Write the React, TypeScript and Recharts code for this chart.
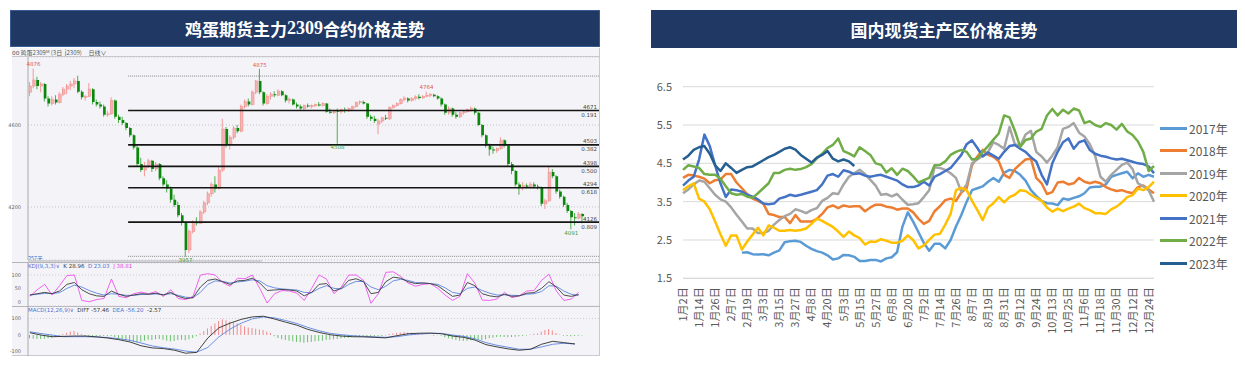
import React from 'react';
import {
  ComposedChart,
  LineChart,
  Line,
  Bar,
  Cell,
  XAxis,
  YAxis,
  CartesianGrid,
  ReferenceLine,
  ReferenceDot,
} from 'recharts';

// ---------- 鸡蛋2309 日K线 [开, 高, 低, 收] ----------
const candles: [number, number, number, number][] = [
  [4760, 4810, 4740, 4790], [4790, 4876, 4780, 4820], [4820, 4835, 4775, 4790], [4790, 4810, 4760, 4800],
  [4800, 4805, 4715, 4730], [4730, 4740, 4690, 4705], [4705, 4740, 4695, 4725], [4725, 4745, 4700, 4710],
  [4710, 4760, 4705, 4750], [4750, 4785, 4740, 4775], [4775, 4800, 4750, 4790], [4790, 4815, 4770, 4800],
  [4800, 4830, 4780, 4815], [4815, 4840, 4755, 4762], [4762, 4770, 4725, 4735], [4735, 4745, 4720, 4740],
  [4740, 4805, 4735, 4775], [4775, 4780, 4700, 4712], [4712, 4725, 4690, 4700], [4700, 4715, 4680, 4690],
  [4690, 4700, 4640, 4650], [4650, 4670, 4640, 4655], [4655, 4735, 4650, 4720], [4720, 4725, 4630, 4640],
  [4640, 4650, 4610, 4625], [4625, 4640, 4600, 4610], [4610, 4615, 4575, 4585], [4585, 4590, 4540, 4550],
  [4550, 4555, 4480, 4490], [4490, 4500, 4400, 4410], [4410, 4440, 4370, 4380], [4380, 4420, 4350, 4400],
  [4400, 4435, 4390, 4425], [4425, 4430, 4370, 4385], [4385, 4420, 4375, 4410], [4410, 4415, 4330, 4340],
  [4340, 4350, 4300, 4310], [4310, 4330, 4270, 4290], [4290, 4300, 4220, 4235], [4235, 4260, 4200, 4210],
  [4210, 4225, 4150, 4160], [4160, 4170, 4110, 4125], [4125, 4130, 3957, 3990], [3990, 4090, 3975, 4080],
  [4080, 4135, 4070, 4125], [4125, 4150, 4110, 4120], [4120, 4185, 4115, 4175], [4175, 4230, 4165, 4220],
  [4220, 4275, 4210, 4265], [4265, 4320, 4250, 4310], [4310, 4350, 4270, 4290], [4290, 4400, 4285, 4380],
  [4380, 4630, 4370, 4580], [4580, 4590, 4490, 4505], [4505, 4550, 4480, 4540], [4540, 4595, 4530, 4585],
  [4585, 4600, 4560, 4570], [4570, 4700, 4565, 4690], [4690, 4725, 4680, 4715], [4715, 4730, 4690, 4700],
  [4700, 4770, 4695, 4760], [4760, 4820, 4750, 4815], [4815, 4875, 4750, 4760], [4760, 4765, 4695, 4705],
  [4705, 4750, 4700, 4740], [4740, 4760, 4725, 4750], [4750, 4765, 4735, 4745], [4745, 4775, 4740, 4765],
  [4765, 4770, 4740, 4745], [4745, 4750, 4710, 4720], [4720, 4735, 4705, 4725], [4725, 4730, 4695, 4700],
  [4700, 4710, 4680, 4690], [4690, 4700, 4675, 4680], [4680, 4700, 4675, 4695], [4695, 4705, 4685, 4690],
  [4690, 4700, 4680, 4695], [4695, 4705, 4688, 4700], [4700, 4712, 4690, 4695], [4695, 4710, 4690, 4705],
  [4705, 4708, 4660, 4665], [4665, 4680, 4655, 4660], [4660, 4675, 4655, 4670], [4670, 4680, 4508, 4665],
  [4665, 4680, 4655, 4675], [4675, 4685, 4660, 4668], [4668, 4685, 4665, 4680], [4680, 4695, 4670, 4690],
  [4690, 4715, 4685, 4710], [4710, 4720, 4700, 4712], [4712, 4720, 4700, 4705], [4705, 4708, 4630, 4640],
  [4640, 4650, 4620, 4630], [4630, 4645, 4610, 4620], [4605, 4630, 4555, 4620], [4620, 4640, 4610, 4635],
  [4635, 4650, 4625, 4630], [4630, 4690, 4625, 4685], [4685, 4700, 4680, 4695], [4695, 4710, 4690, 4705],
  [4705, 4730, 4700, 4725], [4725, 4740, 4715, 4730], [4730, 4735, 4710, 4720], [4720, 4735, 4715, 4730],
  [4730, 4745, 4720, 4738], [4738, 4750, 4725, 4732], [4732, 4745, 4728, 4740], [4740, 4764, 4735, 4745],
  [4745, 4755, 4735, 4748], [4748, 4752, 4735, 4740], [4740, 4745, 4725, 4730], [4730, 4735, 4690, 4700],
  [4700, 4705, 4650, 4660], [4660, 4690, 4650, 4680], [4680, 4685, 4640, 4650], [4650, 4665, 4630, 4640],
  [4640, 4665, 4635, 4660], [4660, 4672, 4650, 4665], [4665, 4680, 4660, 4675], [4675, 4690, 4665, 4680],
  [4680, 4685, 4650, 4660], [4660, 4665, 4595, 4600], [4600, 4605, 4540, 4550], [4550, 4555, 4490, 4500],
  [4500, 4510, 4450, 4480], [4480, 4495, 4460, 4475], [4475, 4490, 4465, 4485], [4485, 4540, 4480, 4525],
  [4525, 4530, 4490, 4500], [4500, 4505, 4400, 4410], [4410, 4420, 4360, 4375], [4375, 4380, 4300, 4310],
  [4310, 4320, 4260, 4295], [4295, 4320, 4280, 4305], [4305, 4315, 4290, 4298], [4298, 4320, 4290, 4310],
  [4310, 4320, 4290, 4300], [4300, 4310, 4285, 4295], [4295, 4300, 4205, 4215], [4215, 4240, 4190, 4230],
  [4230, 4395, 4225, 4370], [4370, 4385, 4340, 4350], [4350, 4355, 4265, 4275], [4275, 4285, 4240, 4250],
  [4250, 4255, 4200, 4210], [4210, 4220, 4170, 4180], [4180, 4185, 4091, 4150], [4150, 4170, 4110, 4145],
  [4145, 4175, 4140, 4165], [4165, 4170, 4120, 4155],
];

// 黄金分割线
const fibLevels = [4671, 4503, 4398, 4294, 4126];
const fibRatios = ['0.191', '0.382', '0.500', '0.618', '0.809'];
const fibBounds = [4839, 3959];

// 高低点标注 (K线序号, 价格)
const markIndex = [1, 62, 107, 83, 42, 146];
const markPrice = [4876, 4875, 4764, 4508, 3957, 4091];
const markIsHigh = [true, true, true, false, false, false];

// KDJ(9,3,3), sampled every 2 bars
const kdjK = [
  25, 30, 35, 30, 40, 65, 72, 45, 30, 22, 20, 40, 28, 20, 25, 30, 28, 32, 25, 35,
  20, 12, 15, 55, 80, 85, 75, 65, 78, 80, 88, 70, 42, 44, 46, 44, 40, 22, 35, 65,
  68, 40, 50, 80, 86, 75, 30, 35, 75, 92, 88, 75, 68, 70, 68, 60, 40, 20, 25, 72,
  60, 30, 22, 18, 28, 20, 22, 32, 34, 50, 75, 55, 25, 20, 27,
];
const kdjD = [
  25, 28, 31, 31, 34, 50, 62, 55, 42, 32, 25, 30, 28, 24, 24, 27, 28, 29, 27, 30,
  24, 17, 15, 35, 65, 78, 76, 70, 74, 77, 82, 78, 60, 52, 48, 46, 44, 35, 34, 50,
  60, 50, 48, 65, 76, 76, 55, 45, 58, 78, 84, 80, 72, 70, 68, 65, 52, 35, 30, 50,
  55, 42, 32, 25, 26, 24, 23, 28, 30, 38, 60, 58, 40, 28, 24,
];
const kdjJ = [
  20, 45, 65, 25, 60, 98, 100, 5, 0, 8, 12, 85, 20, 15, 30, 36, 30, 38, 20, 45,
  12, 8, 20, 100, 105, 100, 72, 58, 88, 86, 100, 50, -5, 30, 42, 40, 32, 5, 50, 100,
  85, 30, 55, 100, 100, 80, -6, 30, 110, 112, 95, 70, 58, 65, 68, 50, 25, 5, 20, 105,
  70, 6, 5, 10, 35, 15, 22, 40, 42, 80, 103, 40, 5, 10, 35,
];

// MACD(12,26,9): DIFF / DEA sampled every 3 bars, histogram every bar
const macdDiff = [
  14, 0, -10, -8, -6, -6, -11, -18, -28, -42, -65, -78, -82, -92, -110, -105, -18, 44, 72, 95,
  110, 114, 97, 78, 60, 34, 16, 2, -6, -10, -11, -14, -17, -4, 8, 11, 12, 8, -6, -14,
  -30, -58, -72, -84, -92, -86, -56, -38, -46, -54,
];
const macdDea = [
  20, 9, 0, -10, -10, -10, -12, -15, -22, -32, -48, -66, -77, -85, -97, -104, -75, -11, 36, 72,
  98, 110, 104, 88, 70, 46, 26, 10, 2, -4, -8, -11, -14, -10, 0, 6, 10, 10, 0, -8,
  -22, -46, -62, -74, -86, -86, -72, -56, -50, -54,
];
const macdHist = [
  -20, -22, -24, -24, -22, -20, -16, -10, -4, 6, 14, 22, 24, 16, 6, -8, -10, -12, -10, -8,
  -6, -8, -6, -12, -22, -28, -32, -38, -42, -46, -40, -34, -28, -30, -26, -24, -28, -34, -38, -36,
  -30, -28, -32, -26, -18, -8, 10, 25, 40, 55, 70, 85, 95, 90, 82, 76, 72, 62, 52, 46,
  42, 38, 34, 30, 22, 12, -8, -18, -26, -30, -34, -38, -42, -44, -46, -44, -42, -38, -36, -34,
  -30, -28, -26, -24, -20, -18, -16, -14, -10, -10, -12, -14, -12, -10, -8, -6, -3, 6, 10, 14,
  16, 18, 16, 14, 10, 6, 4, 2, -2, -4, -2, -4, -14, -20, -26, -30, -34, -36, -34, -32,
  -30, -28, -30, -26, -20, -16, -12, -10, -12, -14, -12, -10, -8, -6, -3, 4, 8, 10, 20, 30,
  36, 28, 12, 4, -4, -6, -8, -6, -4, -3,
];

// ---------- 国内现货主产区价格 ----------
const tickLabels = [
  '1月2日', '1月14日', '1月26日', '2月7日', '2月19日', '3月3日', '3月15日', '3月27日', '4月8日', '4月20日',
  '5月3日', '5月15日', '5月27日', '6月8日', '6月20日', '7月2日', '7月14日', '7月26日', '8月7日', '8月19日',
  '8月31日', '9月12日', '9月24日', '10月13日', '10月25日', '11月6日', '11月18日', '11月30日', '12月12日', '12月24日',
];
const yearNames = ['2017年', '2018年', '2019年', '2020年', '2021年', '2022年', '2023年'];
const yearColors = ['#5B9BD5', '#ED7D31', '#A5A5A5', '#FFC000', '#4472C4', '#70AD47', '#255E91'];

const spot2017 = [
  2.17, 2.18, 2.13, 2.12, 2.13, 2.10, 2.17, 2.23, 2.44, 2.47, 2.48, 2.45, 2.35, 2.27, 2.21, 2.17, 2.10, 1.99, 2.02, 2.11,
  2.10, 2.06, 1.95, 1.95, 1.98, 1.98, 1.94, 2.02, 2.05, 2.18, 2.85, 3.22, 2.98, 2.70, 2.42, 2.22, 2.40,
  2.40, 2.28, 2.50, 2.85, 3.15, 3.50, 3.80, 3.85, 3.90, 4.02, 4.12, 4.02, 4.25, 4.33, 4.30, 4.20, 4.05, 3.80, 3.65, 3.52,
  3.46, 3.45, 3.41, 3.58, 3.55, 3.60, 3.64, 3.72, 3.87, 3.89, 3.89, 3.95, 4.15, 4.20, 4.24, 4.28, 4.11, 4.24, 4.15, 4.20, 4.15,
];
const spot2018 = [
  4.12, 4.20, 4.18, 4.15, 4.10, 3.98, 4.06, 4.08, 4.22, 4.22, 4.00, 3.85, 3.70, 3.58, 3.52, 3.45, 3.18, 3.15, 3.10, 3.10,
  2.94, 3.15, 2.98, 2.98, 2.98, 3.05, 3.18, 3.35, 3.40, 3.33, 3.40, 3.37, 3.38, 3.38, 3.25, 3.35, 3.42, 3.42, 3.37, 3.35,
  3.29, 3.32, 3.32, 3.22, 3.05, 2.92, 3.00, 3.25, 3.38, 3.54, 3.58, 3.52, 3.74, 3.85, 4.45, 4.68, 4.85, 4.72, 4.67, 4.55,
  4.20, 4.12, 4.35, 4.48, 4.60, 4.62, 4.12, 3.98, 3.70, 3.75, 4.00, 4.02, 3.95, 3.98, 4.12, 4.02, 3.98, 4.02, 3.98, 3.88,
  3.82, 3.78, 3.80, 3.75, 3.72, 3.88, 3.92, 3.82, 3.72,
];
const spot2019 = [
  3.72, 3.82, 3.95, 4.05, 4.02, 3.85, 3.68, 3.56, 3.50, 3.35, 3.16, 2.98, 2.80, 2.80, 2.68, 2.68, 2.74, 2.90, 3.02, 3.12,
  3.18, 3.30, 3.26, 3.20, 3.28, 3.33, 3.52, 3.60, 3.72, 3.70, 3.95, 4.15, 4.24, 4.33, 4.22, 4.07, 3.92, 3.68, 3.70, 3.64,
  3.70, 3.55, 3.42, 3.43, 3.46, 3.62, 3.80, 4.40, 4.38, 4.33, 4.24, 4.12, 3.76, 3.95, 4.50, 4.60, 4.70, 4.80, 5.05, 4.98,
  4.88, 5.45, 5.00, 4.95, 5.25, 5.35, 4.80, 4.68, 4.52, 4.70, 4.92, 5.40, 5.45, 5.55, 5.30, 5.20, 5.00, 4.70, 4.15, 4.02,
  4.20, 4.33, 4.46, 4.52, 4.35, 3.98, 3.90, 3.80, 3.50,
];
const spot2020 = [
  3.80, 3.90, 3.98, 3.58, 3.50, 3.30, 2.98, 2.65, 2.35, 2.62, 2.62, 2.25, 2.46, 2.64, 2.82, 2.62, 2.88, 2.82, 2.74, 2.74,
  2.76, 2.74, 2.76, 2.80, 2.92, 3.06, 3.00, 2.92, 2.84, 2.72, 2.58, 2.72, 2.62, 2.55, 2.38, 2.46, 2.45, 2.52, 2.48, 2.43,
  2.43, 2.48, 2.62, 2.50, 2.28, 2.36, 2.50, 2.64, 2.66, 2.90, 3.18, 3.80, 3.86, 3.80, 3.52, 3.28, 3.02, 3.35, 3.46, 3.62,
  3.48, 3.62, 3.68, 3.80, 3.78, 3.68, 3.60, 3.52, 3.35, 3.24, 3.32, 3.25, 3.32, 3.37, 3.45, 3.33, 3.28, 3.20, 3.20, 3.18,
  3.30, 3.37, 3.48, 3.62, 3.67, 3.84, 3.80, 3.88, 4.02,
];
const spot2021 = [
  3.92, 4.05, 4.15, 4.60, 5.25, 4.95, 4.45, 3.98, 3.62, 3.82, 3.80, 3.76, 3.68, 3.63, 3.56, 3.45, 3.43, 3.45, 3.58, 3.62,
  3.68, 3.65, 3.68, 3.72, 3.76, 3.80, 3.95, 4.18, 4.22, 4.15, 4.32, 4.28, 4.22, 4.24, 4.18, 4.15, 4.18, 4.20, 4.15, 4.10,
  4.05, 3.95, 3.88, 3.88, 3.92, 4.02, 3.92, 4.15, 4.22, 4.30, 4.38, 4.55, 4.72, 5.00, 5.10, 4.90, 4.68, 4.78, 4.70, 4.62,
  4.80, 4.95, 4.98, 4.88, 4.80, 4.66, 4.55, 4.20, 3.95, 4.50, 4.80, 5.05, 5.15, 4.88, 5.05, 5.10, 4.85, 4.75, 4.70, 4.67,
  4.63, 4.60, 4.62, 4.58, 4.54, 4.50, 4.48, 4.42, 4.24,
];
const spot2022 = [
  4.33, 4.45, 4.42, 4.38, 4.22, 4.20, 4.20, 4.10, 3.90, 3.72, 3.68, 3.70, 3.63, 3.60, 3.72, 3.85, 3.98, 4.25, 4.25, 4.33,
  4.36, 4.33, 4.35, 4.40, 4.48, 4.63, 4.75, 4.90, 4.98, 5.15, 4.82, 4.76, 4.68, 4.92, 4.82, 4.72, 4.50, 4.46, 4.26, 4.37,
  4.20, 4.36, 4.30, 4.16, 4.00, 4.06, 4.12, 4.45, 4.46, 4.55, 4.72, 4.80, 4.85, 4.80, 4.60, 4.62, 4.80, 4.95, 5.12, 5.28,
  5.75, 5.70, 5.35, 4.93, 5.11, 5.15, 5.33, 5.40, 5.75, 5.92, 5.75, 5.90, 5.80, 5.93, 5.88, 5.55, 5.60, 5.50, 5.45, 5.55,
  5.50, 5.38, 5.53, 5.33, 5.24, 5.07, 4.80, 4.30, 4.43,
];
const spot2023 = [
  4.60, 4.70, 4.85, 4.92, 4.95, 4.75, 4.45, 4.30, 4.50, 4.38, 4.25, 4.33, 4.40, 4.42, 4.50, 4.58, 4.66, 4.72, 4.80, 4.88,
  4.92, 4.86, 4.72, 4.62, 4.52, 4.65, 4.72, 4.82, 4.62, 4.55, 4.60, 4.55, 4.43,
];
const spotSeries = [spot2017, spot2018, spot2019, spot2020, spot2021, spot2022, spot2023];
const spotStart = [11, 0, 0, 0, 0, 0, 0];

const SLOTS = 154; // 150 bars + blank space on the right
const CJK = '"Noto Sans CJK SC", "Noto Sans", sans-serif';
const SMALL = '"DejaVu Sans", "Liberation Sans", sans-serif';

const candleRows = Array.from({ length: SLOTS }, (_, i) => {
  const c = candles[i];
  return {
    i,
    hl: c ? [c[2], c[1]] : null,
    oc: c ? [Math.min(c[0], c[3]), Math.max(c[0], c[3])] : null,
    up: c ? c[3] >= c[0] : false,
  };
});

const kdjRows = kdjK.map((k, s) => ({ i: s * 2, k, d: kdjD[s], j: kdjJ[s] }));

const macdRows = Array.from({ length: SLOTS }, (_, i) => ({
  i,
  hist: i < macdHist.length ? macdHist[i] : null,
  diff: i % 3 === 0 && macdDiff[i / 3] !== undefined ? macdDiff[i / 3] : null,
  dea: i % 3 === 0 && macdDea[i / 3] !== undefined ? macdDea[i / 3] : null,
}));

const spotRows = Array.from({ length: 89 }, (_, k) => {
  const row: Record<string, number | null> = { k };
  spotSeries.forEach((s, n) => {
    const v = s[k - spotStart[n]];
    row[`y${n}`] = v === undefined ? null : v;
  });
  return row;
});
const spotTicks = tickLabels.map((_, n) => n * 3);

function FibLabel(props: any) {
  const { viewBox, price, ratio } = props;
  if (!viewBox) return null;
  const x = viewBox.x + viewBox.width - 2;
  const y = viewBox.y;
  return (
    <g fontFamily={SMALL} fontSize={5.5} fill="#444">
      <text x={x} y={y - 1.5} textAnchor="end">{price}</text>
      <text x={x} y={y + 6.5} textAnchor="end">{ratio}</text>
    </g>
  );
}

function PriceTag(props: any) {
  const { viewBox, value, high } = props;
  if (!viewBox) return null;
  return (
    <text
      x={viewBox.x}
      y={high ? viewBox.y - 2 : viewBox.y + 5.5}
      textAnchor="middle"
      fontFamily={SMALL}
      fontSize={5.5}
      fill={high ? '#E05A5A' : '#3E9E3E'}
    >
      {value}
    </text>
  );
}

function SpotTick(props: any) {
  const { x, y, payload } = props;
  const label = tickLabels[Math.round(payload.value / 3)];
  const ty = y + 1;
  return (
    <text
      x={x}
      y={ty}
      transform={`rotate(-90 ${x} ${ty})`}
      textAnchor="end"
      dy="0.36em"
      fontSize={11}
      fontFamily={CJK}
      fill="#595959"
    >
      {label}
    </text>
  );
}

const smallTick = { fontSize: 5, fill: '#666', fontFamily: SMALL };

function FuturesPanel() {
  return (
    <>
      <div style={{ position: 'absolute', left: 12, top: 48, width: 588, height: 308, background: '#F4F4F8', borderRight: '1px solid #C9C9CF', borderBottom: '1px solid #C9C9CF', boxSizing: 'border-box' }} />
      <div style={{ position: 'absolute', left: 12, top: 49, fontSize: 6, lineHeight: '7px', color: '#555', fontFamily: CJK, whiteSpace: 'pre' }}>
        {'oo 鸡蛋2309ᴹ (3日  j2309)     日线∨'}
      </div>
      <div style={{ position: 'absolute', left: 12, top: 56, width: 588, height: 1, background: '#C8C8CC' }} />

      <div style={{ position: 'absolute', left: 28, top: 256, fontSize: 5.5, lineHeight: '6px', color: '#4060C0', fontFamily: CJK }}>257天</div>
      <div style={{ position: 'absolute', left: 28, top: 260, width: 234, height: 2, background: '#D2D2D6' }} />
      <div style={{ position: 'absolute', left: 12, top: 262, width: 588, height: 1, background: '#B4B4BA' }} />

      <div style={{ position: 'absolute', left: 0, top: 57 }}>
        <ComposedChart width={600} height={209} data={candleRows} margin={{ top: 0, right: 1, bottom: 6, left: 0 }}>
          <XAxis dataKey="i" type="number" domain={[-0.5, SLOTS - 0.5]} hide allowDataOverflow />
          <XAxis xAxisId="wick" dataKey="i" type="category" hide />
          <XAxis xAxisId="body" dataKey="i" type="category" hide />
          <YAxis
            domain={[3941, 4932]}
            ticks={[4200, 4600]}
            allowDataOverflow
            width={28}
            tick={smallTick}
            tickLine={false}
            tickMargin={1}
            axisLine={{ stroke: '#A8A8AE' }}
          />
          <CartesianGrid vertical={false} stroke="#C4C4C8" strokeDasharray="1 2" />
          {fibBounds.map((p) => (
            <ReferenceLine
              key={p}
              segment={[{ x: 26.5, y: p }, { x: SLOTS - 0.5, y: p }]}
              stroke="#8A8A8A"
              strokeDasharray="1 1"
            />
          ))}
          {fibLevels.map((p, n) => (
            <ReferenceLine
              key={p}
              segment={[{ x: 26.5, y: p }, { x: SLOTS - 0.5, y: p }]}
              stroke="#151515"
              strokeWidth={1.6}
              label={<FibLabel price={p} ratio={fibRatios[n]} />}
            />
          ))}
          <Bar xAxisId="wick" dataKey="hl" barSize={1} isAnimationActive={false}>
            {candleRows.map((r) => (
              <Cell key={r.i} fill={r.up ? '#F29A9A' : '#4FAE4F'} />
            ))}
          </Bar>
          <Bar xAxisId="body" dataKey="oc" barSize={2.6} minPointSize={1} isAnimationActive={false}>
            {candleRows.map((r) => (
              <Cell key={r.i} fill={r.up ? '#F6B3B3' : '#0B870B'} stroke={r.up ? '#EE8686' : 'none'} strokeWidth={0.5} />
            ))}
          </Bar>
          {markIndex.map((idx, n) => (
            <ReferenceDot
              key={idx}
              x={idx}
              y={markPrice[n]}
              r={0}
              fill="none"
              stroke="none"
              label={<PriceTag value={markPrice[n]} high={markIsHigh[n]} />}
            />
          ))}
        </ComposedChart>
      </div>

      <div style={{ position: 'absolute', left: 0, top: 263 }}>
        <LineChart width={600} height={43} data={kdjRows} margin={{ top: 0, right: 1, bottom: 0, left: 0 }}>
          <XAxis dataKey="i" type="number" domain={[-0.5, SLOTS - 0.5]} hide />
          <YAxis
            domain={[-16, 145]}
            ticks={[0, 20, 50, 80, 100]}
            allowDataOverflow
            width={28}
            tick={smallTick}
            tickLine={false}
            tickMargin={1}
            axisLine={{ stroke: '#A8A8AE' }}
          />
          <CartesianGrid vertical={false} stroke="#CDCDD2" strokeDasharray="1 2" />
          <Line dataKey="d" stroke="#5C84E0" strokeWidth={0.9} dot={false} isAnimationActive={false} />
          <Line dataKey="j" stroke="#F050F0" strokeWidth={0.9} dot={false} isAnimationActive={false} />
          <Line dataKey="k" stroke="#3A3A3A" strokeWidth={0.9} dot={false} isAnimationActive={false} />
        </LineChart>
      </div>
      <div style={{ position: 'absolute', left: 28, top: 263, fontSize: 5.5, lineHeight: '7px', fontFamily: SMALL, whiteSpace: 'pre' }}>
        <span style={{ color: '#4A6FD0' }}>KDJ(9,3,3)∨  </span>
        <span style={{ color: '#333' }}>K 28.96  </span>
        <span style={{ color: '#4A6FD0' }}>D 23.03  </span>
        <span style={{ color: '#E040E0' }}>J 38.81</span>
      </div>
      <div style={{ position: 'absolute', left: 12, top: 306, width: 588, height: 1, background: '#B4B4BA' }} />

      <div style={{ position: 'absolute', left: 0, top: 306 }}>
        <ComposedChart width={600} height={50} data={macdRows} margin={{ top: 0, right: 1, bottom: 0, left: 0 }}>
          <XAxis dataKey="i" type="number" domain={[-0.5, SLOTS - 0.5]} hide />
          <XAxis xAxisId="bars" dataKey="i" type="category" hide />
          <YAxis
            domain={[-127, 176]}
            ticks={[-100, 0, 100]}
            allowDataOverflow
            width={28}
            tick={smallTick}
            tickLine={false}
            tickMargin={1}
            axisLine={{ stroke: '#A8A8AE' }}
          />
          <CartesianGrid vertical={false} stroke="#CDCDD2" strokeDasharray="1 2" />
          <Bar xAxisId="bars" dataKey="hist" barSize={1} isAnimationActive={false}>
            {macdRows.map((r) => (
              <Cell key={r.i} fill={(r.hist ?? 0) > 0 ? '#F08A8A' : '#6CC06C'} />
            ))}
          </Bar>
          <Line dataKey="dea" stroke="#5C84E0" strokeWidth={0.9} dot={false} connectNulls isAnimationActive={false} />
          <Line dataKey="diff" stroke="#2E2E2E" strokeWidth={0.9} dot={false} connectNulls isAnimationActive={false} />
        </ComposedChart>
      </div>
      <div style={{ position: 'absolute', left: 28, top: 307, fontSize: 5.5, lineHeight: '7px', fontFamily: SMALL, whiteSpace: 'pre' }}>
        <span style={{ color: '#4A6FD0' }}>MACD(12,26,9)∨  </span>
        <span style={{ color: '#333' }}>DIFF -57.46  </span>
        <span style={{ color: '#4A6FD0' }}>DEA -56.20  </span>
        <span style={{ color: '#333' }}>-2.57</span>
      </div>
    </>
  );
}

function SpotPanel() {
  return (
    <>
      <div style={{ position: 'absolute', left: 639, top: 60 }}>
        <LineChart width={606} height={300} data={spotRows} margin={{ top: 26.7, right: 91, bottom: 11.7, left: 0 }}>
          <CartesianGrid vertical={false} stroke="#D9D9D9" />
          <XAxis
            dataKey="k"
            type="number"
            domain={[0, 88]}
            ticks={spotTicks}
            interval={0}
            tick={<SpotTick />}
            tickLine={false}
            axisLine={{ stroke: '#D9D9D9' }}
            height={70}
          />
          <YAxis
            domain={[1.5, 6.5]}
            ticks={[1.5, 2.5, 3.5, 4.5, 5.5, 6.5]}
            tickFormatter={(v: number) => v.toFixed(1)}
            width={44}
            axisLine={false}
            tickLine={false}
            tickMargin={5}
            tick={{ fontSize: 11, fill: '#595959', fontFamily: CJK }}
          />
          {yearNames.map((name, n) => (
            <Line
              key={name}
              name={name}
              dataKey={`y${n}`}
              stroke={yearColors[n]}
              strokeWidth={2.5}
              dot={false}
              strokeLinejoin="round"
              isAnimationActive={false}
            />
          ))}
        </LineChart>
      </div>
      <div style={{ position: 'absolute', left: 1160, top: 116.75 }}>
        {yearNames.map((name, n) => (
          <div key={name} style={{ height: 22.5, display: 'flex', alignItems: 'center' }}>
            <span style={{ display: 'inline-block', width: 27, height: 3, background: yearColors[n] }} />
            <span style={{ marginLeft: 2, fontSize: 12, color: '#595959', fontFamily: CJK }}>{name}</span>
          </div>
        ))}
      </div>
    </>
  );
}

export default function App() {
  return (
    <div style={{ position: 'relative', width: 1245, height: 367, background: '#FFFFFF', overflow: 'hidden' }}>
      <style>{'body{margin:0}'}</style>
      <div
        style={{
          position: 'absolute', left: 10, top: 10, width: 590, height: 37, background: '#1F3864',
          border: '1px solid #3A5A94', boxSizing: 'border-box', color: '#FFFFFF', fontFamily: CJK,
          fontWeight: 700, fontSize: 17, display: 'flex', alignItems: 'center', justifyContent: 'center',
        }}
      >
        鸡蛋期货主力<span style={{ fontFamily: '"Liberation Serif", serif', fontSize: 18 }}>2309</span>合约价格走势
      </div>
      <div
        style={{
          position: 'absolute', left: 651, top: 10, width: 586, height: 38, background: '#1F3864',
          color: '#FFFFFF', fontFamily: CJK, fontWeight: 700, fontSize: 17,
          display: 'flex', alignItems: 'center', justifyContent: 'center',
        }}
      >
        国内现货主产区价格走势
      </div>
      <FuturesPanel />
      <SpotPanel />
    </div>
  );
}
